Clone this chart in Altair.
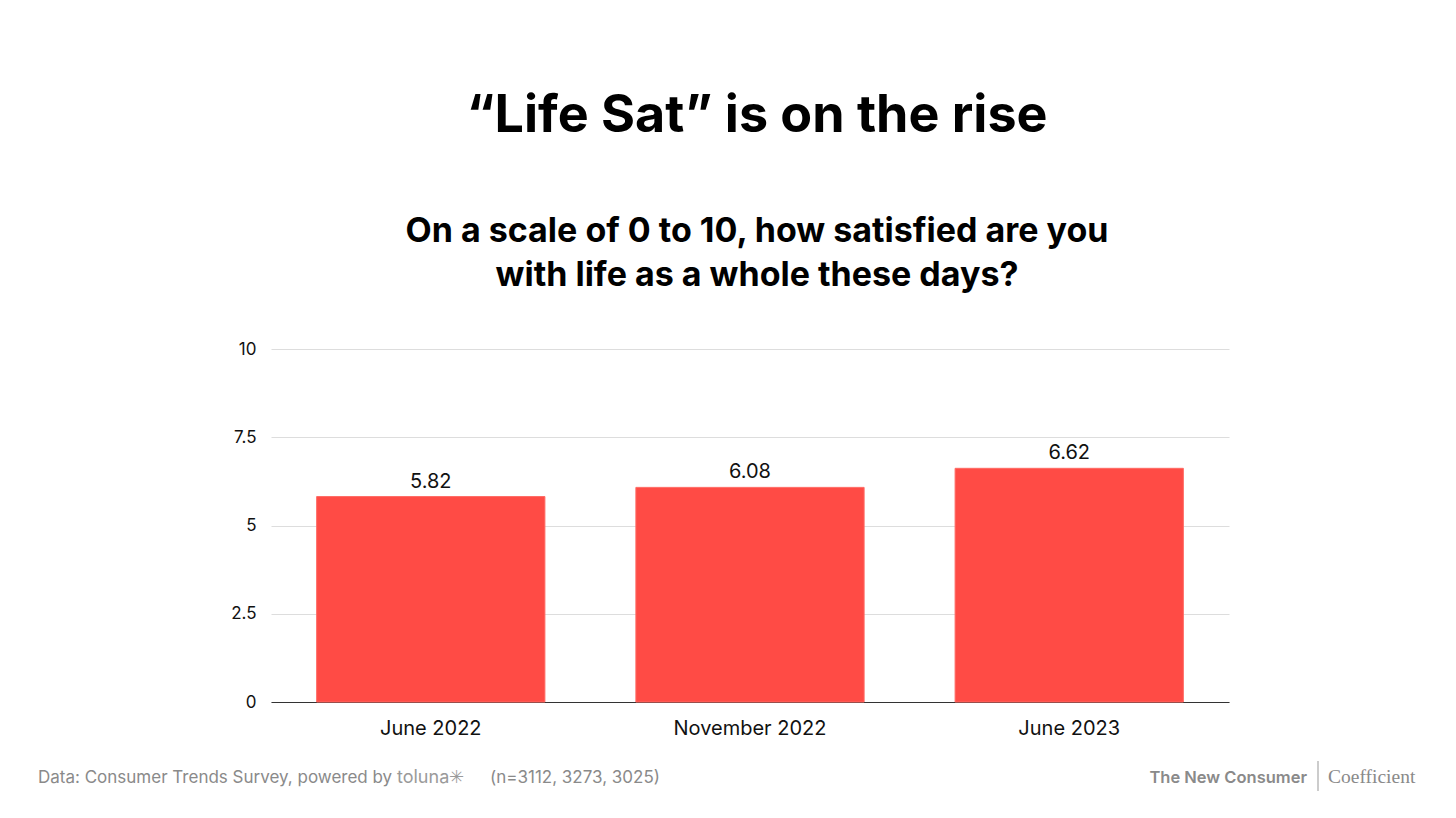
import altair as alt
import pandas as pd

periods = ["June 2022", "November 2022", "June 2023"]
scores = [5.82, 6.08, 6.62]
y_ticks = [0, 2.5, 5, 7.5, 10]

title_text = "\u201cLife Sat\u201d is on the rise"
subtitle_lines = ["On a scale of 0 to 10, how satisfied are you", "with life as a whole these days?"]
source_text = ["Data: Consumer Trends Survey, powered by"]
brand_text = ["toluna\u2733"]
n_text = ["(n=3112, 3273, 3025)"]
logo_left = ["The New Consumer"]
logo_right = ["Coefficient"]

df = pd.DataFrame({"period": periods, "score": scores})

FONT = "Inter"
BAR = "#FF4B45"

x_enc = alt.X("period:N", sort=None, title=None,
              scale=alt.Scale(paddingInner=0.285, paddingOuter=0.143),
              axis=alt.Axis(labelAngle=0, labelFontSize=20, labelColor="#111", labelPadding=16,
                            ticks=False, domain=True, domainColor="#333", domainWidth=1.2,
                            labelFont=FONT, grid=False))
y_enc = alt.Y("score:Q", title=None,
              scale=alt.Scale(domain=[0, 10], nice=False),
              axis=alt.Axis(values=y_ticks, labelExpr="datum.value + ''", labelFontSize=17, labelColor="#111",
                            labelPadding=15, ticks=False, domain=False, gridColor="#dddddd",
                            labelFont=FONT))

bars = alt.Chart(df).mark_bar(color=BAR, stroke="#ff6a64", strokeWidth=1).encode(x=x_enc, y=y_enc)
labels = alt.Chart(df).mark_text(baseline="bottom", dy=-5, fontSize=20, font=FONT, color="#111").encode(
    x=alt.X("period:N", sort=None), y="score:Q", text=alt.Text("score:Q", format=".2f"))

def note(texts, x, y, **kw):
    return alt.Chart(pd.DataFrame({"t": texts})).mark_text(**kw).encode(
        x=alt.value(x), y=alt.value(y), text="t:N")

f_src = note(source_text, -233, 434, align="left", baseline="alphabetic", fontSize=17, font=FONT, color="#8a8a8a")
f_brand = note(brand_text, 126, 434, align="left", baseline="alphabetic", fontSize=18, font=FONT, color="#9a9a9a")
f_n = note(n_text, 219, 434, align="left", baseline="alphabetic", fontSize=17, font=FONT, color="#8a8a8a")
f_logo1 = note(logo_left, 1036, 434, align="right", baseline="alphabetic", fontSize=16.5, font=FONT,
               fontWeight=600, color="#8a8a8a")
f_logo2 = note(logo_right, 1057, 434, align="left", baseline="alphabetic", fontSize=19.5, font="Liberation Serif",
               color="#8a8a8a")
sep = alt.Chart(pd.DataFrame({"a": [0]})).mark_rule(color="#999", strokeWidth=1).encode(
    x=alt.value(1047), y=alt.value(412), y2=alt.value(442))

chart = alt.layer(bars, labels, f_src, f_brand, f_n, f_logo1, f_logo2, sep).properties(
    width=958, height=353,
    background="white",
    title=alt.TitleParams(title_text, subtitle=subtitle_lines, anchor="middle", font=FONT, fontSize=52,
                          fontWeight="bold", color="#000", subtitleFont=FONT, subtitleFontSize=34,
                          subtitleFontWeight="bold", subtitleColor="#000", subtitlePadding=72,
                          subtitleLineHeight=44, offset=46, dx=7),
    autosize=alt.AutoSizeParams(type="none"),
    padding={"left": 263, "top": 341, "right": 219, "bottom": 100},
).configure_view(stroke=None)

chart.save("out.html", embed_options={"renderer": "svg", "actions": False})
